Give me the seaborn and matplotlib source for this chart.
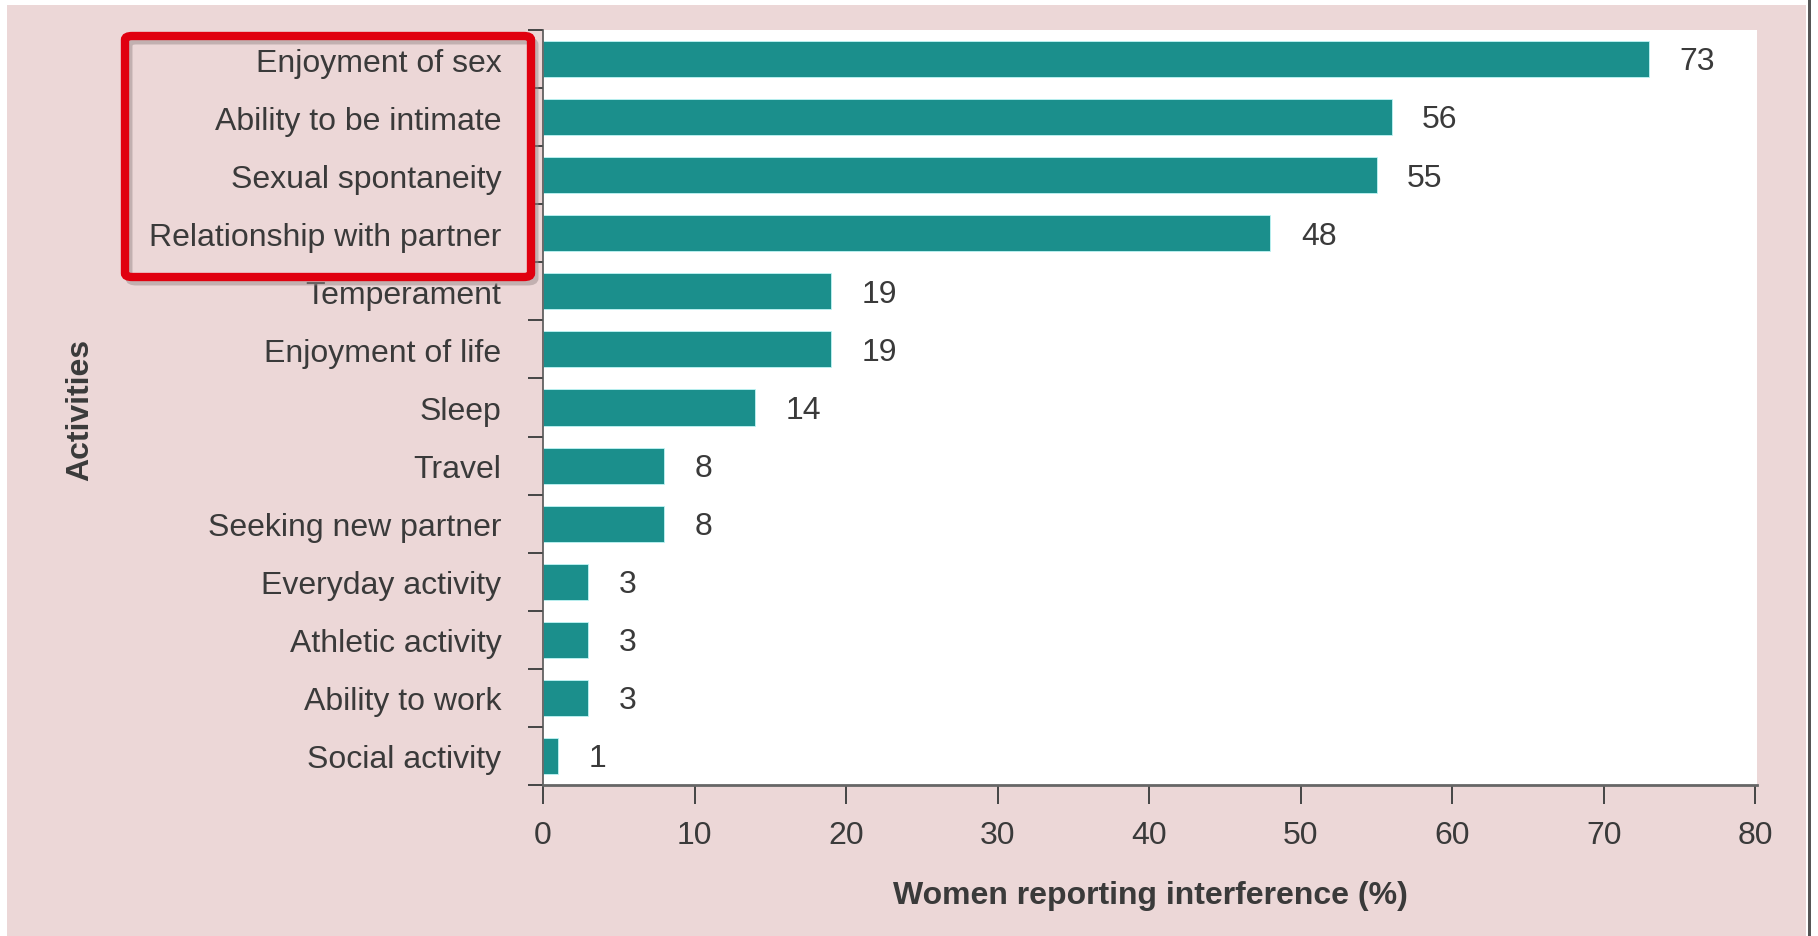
import matplotlib
matplotlib.use("Agg")
import matplotlib.pyplot as plt
import seaborn as sns
import pandas as pd
import numpy as np
from matplotlib.patches import FancyBboxPatch, Rectangle
from matplotlib.ticker import FixedLocator

categories = ["Enjoyment of sex", "Ability to be intimate", "Sexual spontaneity",
              "Relationship with partner", "Temperament", "Enjoyment of life", "Sleep",
              "Travel", "Seeking new partner", "Everyday activity", "Athletic activity",
              "Ability to work", "Social activity"]
values = [73, 56, 55, 48, 19, 19, 14, 8, 8, 3, 3, 3, 1]
x_ticks = [0, 10, 20, 30, 40, 50, 60, 70, 80]

df = pd.DataFrame({"activity": categories, "pct": values})

sns.set_theme(style="white")
plt.rcParams['font.family'] = ['Liberation Sans', 'DejaVu Sans']

BG = "#ecd7d7"
TEAL = "#1b8f8c"
TXT = "#3a3a3a"
FS = 23

fig = plt.figure(figsize=(18.18, 9.37), dpi=100)
fig.patch.set_facecolor("white")
# pink panel
fig.patches.append(Rectangle((7/1818, 0), (1806-7)/1818, 1 - 6/937, transform=fig.transFigure,
                             facecolor=BG, edgecolor="none", zorder=-10))
fig.patches.append(Rectangle((1808/1818, 0), 3/1818, 1, transform=fig.transFigure,
                             facecolor="#555555", edgecolor="none", zorder=-10))

ax = fig.add_axes([543/1818, 1 - 786/937, (1757-543)/1818, (786-31)/937])
ax.set_zorder(1)
ax.set_facecolor("white")

sns.barplot(data=df, y="activity", x="pct", orient="h", color=TEAL, width=0.62,
            saturation=1, ax=ax, edgecolor="#bff5f5", linewidth=0.6)

ax.set_xlim(0, 80.1)
ax.set_ylim(12.5, -0.5)

for i, v in enumerate(values):
    ax.text(v + 2.0, i + 0.04, f"{v:g}", va="center", ha="left", fontsize=FS, color=TXT)

ax.set_xticks(x_ticks)
ax.set_xticklabels([str(t) for t in x_ticks], fontsize=FS, color=TXT)
ax.tick_params(axis="x", which="major", length=14, width=1.4, color="#444444",
               direction="out", pad=11, bottom=True)

ax.set_yticks(range(len(categories)))
ax.set_yticklabels(categories, fontsize=FS, color=TXT)
ax.tick_params(axis="y", which="major", length=0, pad=30)
ax.yaxis.set_minor_locator(FixedLocator(np.arange(-0.5, len(categories), 1.0)))
ax.tick_params(axis="y", which="minor", length=11, width=1.4, color="#444444",
               direction="out", left=True)

for s in ["top", "right"]:
    ax.spines[s].set_visible(False)
ax.spines["left"].set_color("#555555")
ax.spines["left"].set_linewidth(1.2)
ax.spines["bottom"].set_color("#666666")
ax.spines["bottom"].set_linewidth(2)

ax.set_xlabel("Women reporting interference (%)", fontsize=FS, fontweight="bold",
              color=TXT, labelpad=22)
ax.set_ylabel("")
fig.text(80/1818, 1 - 410/937, "Activities", rotation=90, fontsize=FS,
         fontweight="bold", color=TXT, ha="center", va="center")

# red highlight box with shadow
shadow = FancyBboxPatch((129/1818, 1 - 283/937), (531-125)/1818, (278-37)/937,
                        boxstyle="round,pad=0,rounding_size=0.004",
                        transform=fig.transFigure, facecolor="none",
                        edgecolor="#9a8a8a", linewidth=5, alpha=0.5, zorder=5)
box = FancyBboxPatch((125/1818, 1 - 278/937), (531-125)/1818, (278-37)/937,
                     boxstyle="round,pad=0,rounding_size=0.004",
                     transform=fig.transFigure, facecolor="none",
                     edgecolor="#e0000f", linewidth=6, zorder=6)
fig.patches.append(shadow)
fig.patches.append(box)

fig.savefig("out.png", dpi=100, facecolor=fig.get_facecolor())
